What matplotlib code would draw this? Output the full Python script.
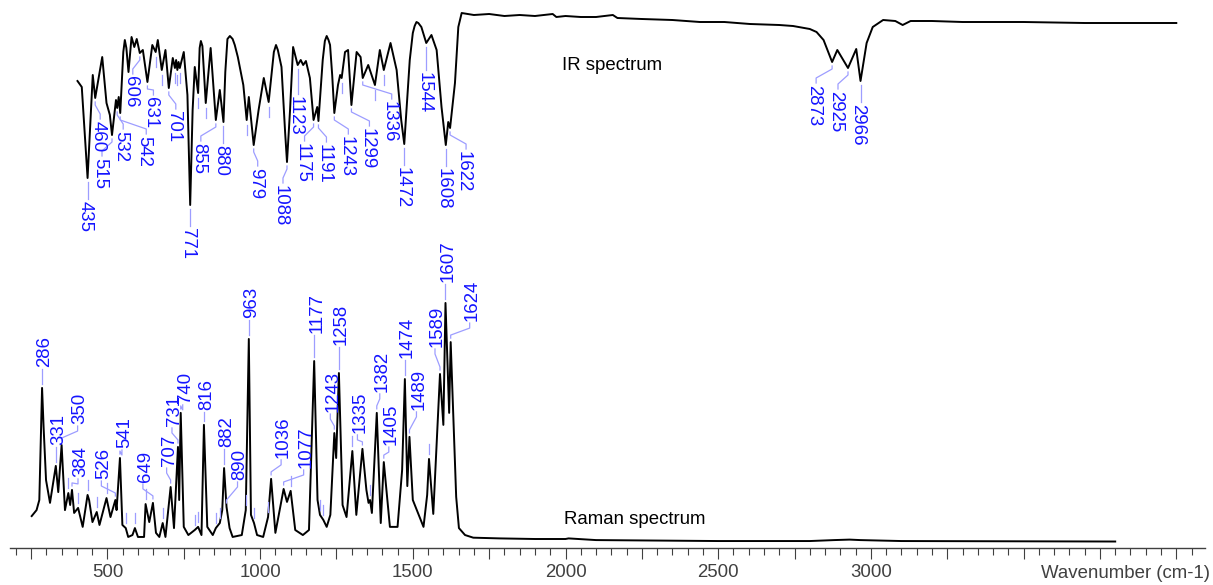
import numpy as np
import matplotlib.pyplot as plt
from matplotlib.ticker import FixedLocator, FuncFormatter

plt.rcParams['font.family'] = ['Liberation Sans', 'DejaVu Sans']

# IR spectrum (% transmittance)
ir_wn = [402, 416, 435, 452, 460, 483, 497, 508, 515, 528, 532, 537, 542, 552, 557, 562, 569,
         579, 588, 596, 606, 616, 631, 647, 658, 665, 678, 690, 701, 714, 721, 725, 729, 733,
         737, 750, 762, 771, 779, 786, 797, 802, 806, 811, 822, 838, 855, 868, 880, 886,
         893, 901, 910, 917, 927, 945, 956, 963, 979, 995, 1012, 1028, 1045, 1052, 1058,
         1070, 1082, 1088, 1098, 1108, 1123, 1133, 1141, 1150, 1163, 1175, 1187, 1191,
         1205, 1212, 1218, 1224, 1229, 1236, 1243, 1255, 1262, 1267, 1278, 1288, 1299,
         1316, 1329, 1336, 1354, 1376, 1392, 1405, 1427, 1447, 1462, 1472, 1490, 1500,
         1506, 1512, 1518, 1528, 1544, 1561, 1578, 1594, 1608, 1616, 1622, 1638, 1649,
         1660, 1700, 1750, 1800, 1850, 1900, 1958, 1970, 2000, 2050, 2100, 2155, 2170,
         2250, 2350, 2440, 2520, 2604, 2700, 2745, 2800, 2822, 2845, 2873, 2890, 2925,
         2952, 2966, 2986, 3006, 3040, 3080, 3104, 3130, 3200, 3300, 3500, 3700, 3900, 4000]
ir_t = [65.5, 62.5, 17, 68.5, 57, 77.5, 54.5, 48.5, 38.5, 56, 52, 57.5, 49.5, 80, 86, 82, 70,
        87.5, 82.5, 86.5, 79.5, 81, 65, 83.5, 80, 86, 71, 81, 62, 77, 72, 76, 71, 75,
        72, 80, 58.5, 3.5, 51, 72.5, 59.5, 82, 85.5, 83, 54.5, 82, 46, 61, 45, 70,
        86.5, 88, 86.5, 83.5, 77.5, 63.5, 46, 57.5, 33.5, 51, 67, 55, 80, 83.5, 81,
        72.5, 39.5, 25, 51, 82.5, 73.5, 76, 73.5, 75.5, 67, 46, 52.5, 45.5,
        76, 85.5, 88, 86, 83.5, 68.5, 49.5, 63.5, 68.5, 67, 80, 81, 53.5,
        80, 77.5, 67, 73.5, 63.5, 81, 71, 84.5, 71, 46, 34, 76, 89.5,
        93, 95, 94.5, 92.5, 84.5, 88.5, 81, 52.5, 33.5, 45, 42, 64.5, 92.5,
        99.5, 98.5, 99, 98, 98.5, 98, 99, 97.5, 98, 97.5, 97.5, 98.5, 97,
        96.5, 96, 95, 95, 94, 93.5, 93, 91.5, 90, 86, 75, 81, 72,
        81.5, 65.5, 84.5, 92.5, 96, 95.5, 93.5, 95.5, 95.5, 95, 95, 94.5, 94.5, 94.5]
ir_peaks = [435, 460, 515, 532, 542, 606, 631, 701, 771, 855, 880, 979, 1088, 1123, 1175,
            1191, 1243, 1299, 1336, 1472, 1544, 1608, 1622, 2873, 2925, 2966]
ir_minor = [658, 678, 721, 729, 737, 797, 822, 956, 1028, 1267, 1376, 1405]

# Raman spectrum (intensity, a.u.)
raman_wn = [252, 268, 277, 286, 291, 299, 312, 331, 339, 350, 361, 372, 378, 384, 391, 404,
            419, 435, 440, 451, 465, 474, 497, 510, 526, 530, 541, 549, 560, 568, 582, 590,
            600, 620, 625, 637, 649, 659, 670, 681, 690, 707, 718, 731, 735, 740, 750, 765,
            786, 797, 808, 816, 827, 845, 855, 868, 876, 882, 890, 900, 910, 940, 953, 963,
            970, 980, 990, 1010, 1026, 1036, 1050, 1077, 1088, 1100, 1115, 1140, 1160, 1177,
            1188, 1196, 1207, 1218, 1230, 1243, 1249, 1258, 1270, 1283, 1302, 1315, 1335,
            1348, 1355, 1360, 1366, 1382, 1395, 1405, 1425, 1450, 1465, 1474, 1482, 1489,
            1500, 1535, 1547, 1553, 1567, 1589, 1600, 1607, 1619, 1624, 1636, 1642, 1651,
            1671, 1698, 1785, 1900, 2000, 2010, 2100, 2300, 2500, 2800, 2880, 2930, 2965,
            3100, 3800]
raman_int = [10.8, 13.3, 17.5, 64.2, 47.9, 25.8, 16.3, 31.7, 20.8, 40.4, 13.3, 20.4, 15.4, 21.7, 12.1, 14.2,
             6.3, 19.6, 17.5, 8.3, 12.5, 7.1, 18.3, 10.4, 17.5, 13.3, 35, 7.1, 5.8, 2.1, 2.9, 5.8,
             2.1, 2.1, 15.8, 8.3, 16.3, 3.8, 2.1, 7.9, 2.1, 22.9, 5.8, 39.6, 17.5, 53.8, 6.3, 2.9,
             5, 6.3, 2.9, 48.8, 6.3, 2.9, 5.8, 7.9, 13.3, 30.8, 14.6, 5.8, 2.1, 2.9, 13.3, 84.6,
             11.3, 7.9, 2.9, 2.1, 10.4, 26.3, 3.8, 22.1, 16.7, 21.3, 5, 2.9, 5, 75.4,
             17.5, 11.3, 9.2, 6.3, 11.3, 45.4, 35, 70.4, 15.4, 10.4, 37.9, 11.3, 38.8,
             21.7, 16.3, 17.5, 12.1, 53.8, 7.9, 33.3, 6.3, 6.3, 30, 67.9, 23.3, 43.8,
             17.5, 6.3, 19.6, 34.6, 11.7, 70, 48.8, 99.6, 53.8, 83.3, 39.6, 18.8, 5.8,
             2.9, 1.8, 1.5, 1.25, 1.25, 1.5, 0.8, 0.6, 0.4, 0.4, 0.8, 1.0, 0.8,
             0.4, 0.2]
raman_peaks = [286, 331, 350, 384, 526, 541, 649, 707, 731, 740, 816, 882, 890, 963, 1036,
               1077, 1177, 1243, 1258, 1335, 1382, 1405, 1474, 1489, 1589, 1607, 1624]
raman_minor = [372, 404, 435, 465, 497, 560, 590, 625, 681, 786, 797, 855, 868, 953, 980,
               1026, 1100, 1196, 1207, 1302, 1360, 1553]

# label layout: sideways shift (px) and distance from peak (px) where not default
ir_nudge = {460: 5, 515: -10, 532: 6, 542: 26, 606: -7, 631: 6, 701: 7, 855: -15,
            979: 4, 1088: -4, 1175: -9, 1191: 8, 1243: 14, 1299: 18, 1336: 29,
            1622: 16, 2873: -16, 2925: -10}
ir_depth = {631: 15, 1123: 31, 1544: 29}
raman_nudge = {350: 16, 384: 6, 526: -14, 541: 2, 649: -10, 707: -4, 731: -6, 740: 2,
               890: 11, 1036: 10, 1077: 20, 1243: -4, 1335: -5, 1382: 3, 1405: 5,
               1489: 7, 1589: -5, 1624: 19}
raman_depth = {384: 13, 541: 10, 740: 10, 816: 15, 1177: 28, 1258: 28, 1489: 27,
               1589: 27, 890: 27, 1335: 16, 1405: 17}

lead_c = '#9d9dff'
txt_c = '#1414ff'
W, H = 1213, 585
FS = 13.4

fig = plt.figure(figsize=(W / 100, H / 100), dpi=100)
ax = fig.add_axes([10 / W, (H - 548) / H, 1195 / W, 548 / H])
ax.set_xlim(181, 4094)
ax.set_ylim(0, 548)
k = 1195 / (4094 - 181)   # pixels per cm-1

# place both traces in the pixel-height frame of the axes
ir_y = 336 + 2.0 * np.array(ir_t)
raman_y = 6 + 2.4 * np.array(raman_int)

ax.plot(ir_wn, ir_y, color='black', lw=1.4, solid_joinstyle='round')
ax.plot(raman_wn, raman_y, color='black', lw=1.4, solid_joinstyle='round')


def label_peaks(wn, ys, peaks, nudge, depths, minor, sign, rot, va, depth, fix):
    for p in peaks:
        y0 = np.interp(p, wn, ys)
        tx = p + nudge.get(p, 0) / k
        yt = y0 + sign * depths.get(p, depth)
        ya = y0 + sign * 4
        yb = yt - sign * 2
        if p in nudge:
            xs = [p, p, tx, tx]
            yy = [ya, ya + sign * 3, yb - sign * 5, yb]
        else:
            xs, yy = [p, p], [ya, yb]
        ax.plot(xs, yy, color=lead_c, lw=0.9)
        ax.text(tx + fix / k, yt, str(p), rotation=rot, ha='center', va=va,
                color=txt_c, fontsize=FS)
    for m in minor:
        y0 = np.interp(m, wn, ys)
        ax.plot([m, m], [y0 + sign * 5, y0 + sign * 15], color=lead_c, lw=0.9)


label_peaks(ir_wn, ir_y, ir_peaks, ir_nudge, ir_depth, ir_minor, -1, -90, 'top', 23, -2.5)
label_peaks(raman_wn, raman_y, raman_peaks, raman_nudge, raman_depth, raman_minor,
            1, 90, 'bottom', 21, 2.5)

ax.text(1990, 483, 'IR spectrum', fontsize=FS, color='black', va='center', ha='left')
ax.text(1996, 28, 'Raman spectrum', fontsize=FS, color='black', va='center', ha='left')

for s in ['left', 'right', 'top']:
    ax.spines[s].set_visible(False)
ax.spines['bottom'].set_color('#404040')
ax.spines['bottom'].set_linewidth(1.0)
ax.set_yticks([])
ax.xaxis.set_major_locator(FixedLocator(np.arange(250, 4051, 250)))
ax.xaxis.set_minor_locator(FixedLocator(np.arange(200, 4051, 50)))
ax.xaxis.set_major_formatter(FuncFormatter(
    lambda v, pos: f'{int(v)}' if v % 500 == 0 and 500 <= v <= 3000 else ''))
ax.tick_params(axis='x', which='major', length=8, width=0.8, color='#404040',
               labelsize=FS, labelcolor='#404040', pad=3.5)
ax.tick_params(axis='x', which='minor', length=4.7, width=0.8, color='#404040')
ax.patch.set_visible(False)

fig.text(1210 / W, 1 - 573 / H, 'Wavenumber (cm-1)', fontsize=FS, color='#404040',
         ha='right', va='center')

fig.savefig('out.png', dpi=100)
